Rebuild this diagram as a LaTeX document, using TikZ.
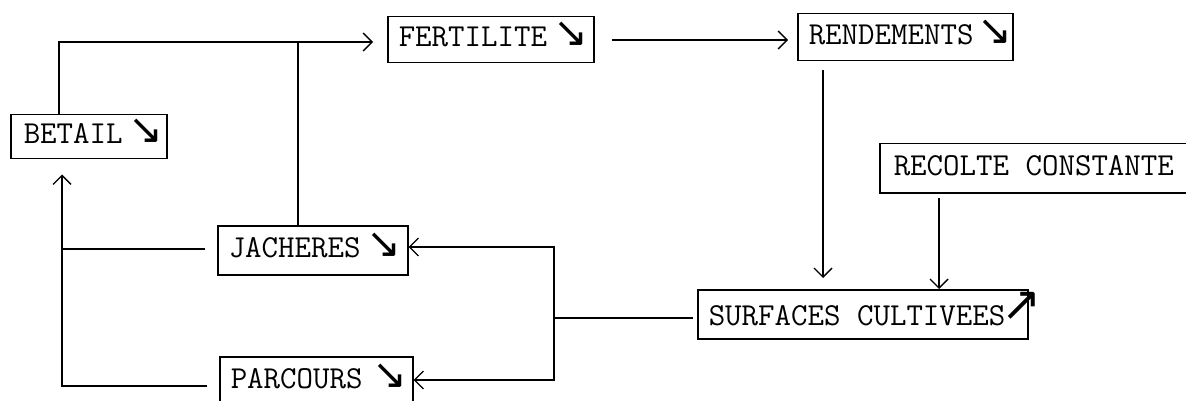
\documentclass[tikz,border=0pt]{standalone}
\usepackage{fontspec}
\usepackage{graphicx}
\setmonofont{Latin Modern Mono}
\newfontfamily\symfont{DejaVu Sans}
\usetikzlibrary{arrows.meta}
\newcommand{\dn}{{\symfont\scalebox{1.3}{↘}}}
\newcommand{\up}{{\symfont\raisebox{5pt}{\scalebox{1.5}{↗}}}}
\newcommand{\lbl}[2]{\makebox[#1pt][l]{\strut #2}}
\begin{document}
\begin{tikzpicture}[x=1pt,y=-1pt,line width=1.5pt,
  box/.style={draw, anchor=north west, inner ysep=0pt,
    font=\fontsize{32}{34}\ttfamily\selectfont},
  arr/.style={-{Straight Barb[length=9pt,width=18pt,line width=1.4pt]}}]
\useasboundingbox (0,0) rectangle (1186,401);
% boxes
\node[box, inner xsep=13pt, minimum height=44pt] (bet) at (10,114) {\lbl{130}{BETAIL\hspace{6pt}\dn}};
\node[box, inner xsep=11pt, minimum height=46pt] (fert) at (387,16) {\lbl{184}{FERTILITE\hspace{6pt}\dn}};
\node[box, inner xsep=11pt, minimum height=47pt] (rend) at (797,13) {\lbl{193}{RENDEMENTS\hspace{4pt}\dn}};
\node[box, inner xsep=14pt, minimum height=49pt] (rec) at (879,143) {\lbl{300}{RECOLTE CONSTANTE}};
\node[box, inner xsep=11pt, minimum height=49pt] (jach) at (217,225) {\lbl{168}{JACHERES\hspace{6pt}\dn}};
\node[box, inner xsep=11pt, minimum height=49pt] (parc) at (219,356) {\lbl{171}{PARCOURS\hspace{10pt}\dn}};
\node[box, inner xsep=11pt, minimum height=49pt] (surf) at (697,289) {\lbl{308}{SURFACES CULTIVEES\hspace{-4pt}\up}};
% coordinates
\coordinate (tl) at (59,42);
\coordinate (tj) at (298,42);
\coordinate (rd) at (823,70);
\coordinate (rc) at (939,198);
\coordinate (sv) at (554,318);
\coordinate (jv) at (554,247);
\coordinate (pv) at (554,380);
\coordinate (lj) at (62,249);
\coordinate (lp) at (62,386);
% connectors
\draw[arr, shorten >=14pt] (tl |- bet.north) -- (tl) -- (tl -| fert.west);
\draw (tj |- jach.north) -- (tj);
\draw[arr, shorten <=17pt, shorten >=9pt] (fert.east |- 0,40) -- (rend.west |- 0,40);
\draw[arr, shorten >=11pt] (rd) -- (rd |- surf.north);
\draw[arr] (rc) -- (rc |- surf.north);
\draw[shorten <=4pt] (surf.west |- sv) -- (sv);
\draw[arr] (sv) -- (jv) -- (jv -| jach.east);
\draw[arr] (sv) -- (pv) -- (pv -| parc.east);
\draw[arr, shorten <=12pt, shorten >=15pt] (jach.west |- lj) -- (lj) -- (lj |- bet.south);
\draw[shorten <=12pt] (parc.west |- lp) -- (lp) -- (lj);
\end{tikzpicture}
\end{document}
